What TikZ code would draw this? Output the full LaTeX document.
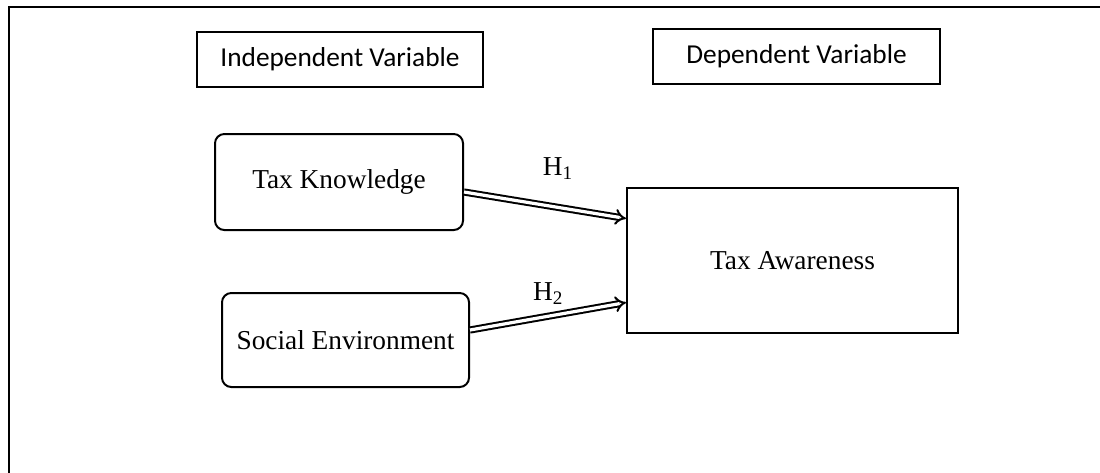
\documentclass[tikz,border=0pt]{standalone}
\usepackage{fontspec}
\setmainfont{Liberation Serif}
\newfontfamily\calibrifont{Carlito}
\usetikzlibrary{calc, arrows.meta, positioning}

\begin{document}
\begin{tikzpicture}[
   x = 0.75pt, y = -0.75pt,
   every node/.style = {font=\fontsize{20.5}{24}\selectfont},
   varbox/.style = {draw, line width=1pt, font=\calibrifont\fontsize{20.5}{24}\selectfont},
   factor/.style = {draw, line width=1.5pt, rounded corners=7pt},
   outcome/.style = {draw, line width=1.5pt},
   hyp/.style = {double, double distance=2.4pt, line width=1.5pt, -{Implies}}]
   \useasboundingbox (0,0) rectangle (1100,472);
   \draw[line width=1.4pt] (9,7) rectangle (1120,490);

   \node[varbox, minimum width=286*0.75pt, minimum height=55*0.75pt]  (indep) at (340,59.5) {Independent Variable};
   \node[varbox, minimum width=287*0.75pt, minimum height=55*0.75pt]  (dep) at (796.5,56.5) {Dependent Variable};

   \node[factor, minimum width=248*0.75pt, minimum height=96*0.75pt]  (know) at (339,182) {Tax Knowledge};
   \node[factor, minimum width=247*0.75pt, minimum height=94*0.75pt]  (social) at (345.5,340) {Social Environment};
   \node[outcome, minimum width=331*0.75pt, minimum height=145*0.75pt]  (aware) at (792.5,260.5) {Tax Awareness};

   \draw ($(know.east)+(0,10)$) edge[hyp] node[pos=0.58, above=19pt, inner sep=1pt]{H\textsubscript{1}} ($(aware.west)+(0,-42)$);
   \draw ($(social.east)+(0,-10)$) edge[hyp] node[pos=0.5, above=7pt, inner sep=1pt]{H\textsubscript{2}} ($(aware.west)+(0,42)$);
\end{tikzpicture}
\end{document}
